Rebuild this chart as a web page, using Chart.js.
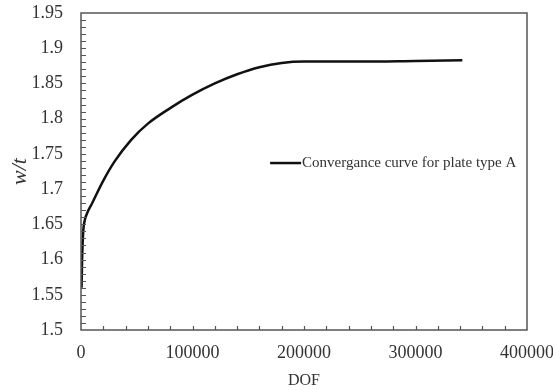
<!DOCTYPE html>
<html>
<head>
<meta charset="utf-8">
<script src="https://cdn.jsdelivr.net/npm/chart.js@4.4.1/dist/chart.umd.min.js"></script>
<style>
  html, body { margin: 0; padding: 0; background: #fff; }
</style>
</head>
<body>
<canvas id="dof-chart" width="553" height="390"></canvas>
<script>
'use strict';

// convergence study: degrees of freedom vs. w/t
var DOF = [500, 1000, 2000, 3000, 5000, 10000, 20000, 30000, 45000, 60000,
  80000, 100000, 120000, 140000, 160000, 180000, 200000, 250000, 300000, 342000];
var WT = [1.56, 1.60, 1.64, 1.653, 1.664, 1.680, 1.712, 1.739, 1.770, 1.793,
  1.815, 1.834, 1.850, 1.863, 1.873, 1.879, 1.881, 1.881, 1.882, 1.883];
var SERIES_LABEL = 'Convergance curve for plate type A';

var X_MIN = 0, X_MAX = 400000, X_STEP = 100000, X_MINOR = 20000;
var Y_MIN = 1.5, Y_MAX = 1.95, Y_STEP = 0.05, Y_MINOR = 0.01;

var SERIF = '"Liberation Serif", "Times New Roman", serif';
var TEXT = '#333';

var PAD = { left: 7, right: 26, top: 13, bottom: 0 };

// keep the plot box fixed: no extra room for overhanging tick labels
function noOverhang(s) {
  s.paddingLeft = 0;
  s.paddingRight = 0;
  s.paddingTop = 0;
  s.paddingBottom = 0;
}

// box frame, inward tick marks and the in-plot legend
var framePlugin = {
  id: 'frame',
  afterDraw: function(chart) {
    var c = chart.ctx, a = chart.chartArea;
    var xs = chart.scales.x, ys = chart.scales.y;
    c.save();
    c.strokeStyle = '#555';
    c.lineWidth = 1.5;
    c.strokeRect(a.left, a.top, a.right - a.left, a.bottom - a.top);

    c.lineWidth = 1.2;
    c.beginPath();
    for (var v = X_MIN + X_MINOR; v < X_MAX; v += X_MINOR) {
      var px = Math.round(xs.getPixelForValue(v)) + 0.5;
      c.moveTo(px, a.bottom);
      c.lineTo(px, a.bottom - 4);
    }
    for (var i = 1; i < Math.round((Y_MAX - Y_MIN) / Y_MINOR); i++) {
      var py = Math.round(ys.getPixelForValue(Y_MIN + i * Y_MINOR)) + 0.5;
      c.moveTo(a.left, py);
      c.lineTo(a.left + 5, py);
    }
    c.stroke();

    // legend
    var lx = a.left + (a.right - a.left) * 0.424;
    var ly = ys.getPixelForValue(1.737);
    c.strokeStyle = '#111';
    c.lineWidth = 2.5;
    c.beginPath();
    c.moveTo(lx, ly);
    c.lineTo(lx + 31, ly);
    c.stroke();
    c.fillStyle = TEXT;
    c.font = '15px ' + SERIF;
    c.textBaseline = 'middle';
    c.fillText(chart.data.datasets[0].label, lx + 32, ly);
    c.restore();
  }
};

var ctx = document.getElementById('dof-chart').getContext('2d');
new Chart(ctx, {
  type: 'line',
  data: {
    datasets: [{
      label: SERIES_LABEL,
      data: DOF.map(function(d, i) { return { x: d, y: WT[i] }; }),
      borderColor: '#111',
      borderWidth: 2.5,
      pointRadius: 0,
      fill: false,
      cubicInterpolationMode: 'monotone'
    }]
  },
  options: {
    responsive: false,
    animation: false,
    layout: { padding: PAD, autoPadding: false },
    plugins: {
      legend: { display: false },
      tooltip: { enabled: false }
    },
    scales: {
      x: {
        type: 'linear',
        min: X_MIN,
        max: X_MAX,
        grid: { display: false, drawTicks: false },
        border: { display: false },
        ticks: {
          stepSize: X_STEP,
          padding: 12,
          color: TEXT,
          font: { family: SERIF, size: 18 },
          maxRotation: 0,
          callback: function(v) { return String(v); }
        },
        title: {
          display: true,
          text: 'DOF',
          color: TEXT,
          padding: 0,
          font: { family: SERIF, size: 16 }
        },
        afterFit: function(s) {
          s.height = 390 - 330 - PAD.bottom;
          noOverhang(s);
        }
      },
      y: {
        min: Y_MIN,
        max: Y_MAX,
        grid: { display: false, drawTicks: false },
        border: { display: false },
        ticks: {
          stepSize: Y_STEP,
          padding: 18,
          color: TEXT,
          font: { family: SERIF, size: 18 },
          callback: function(v) { return String(Number(v.toFixed(2))); }
        },
        title: {
          display: true,
          text: 'w/t',
          color: TEXT,
          padding: 0,
          font: { family: SERIF, size: 22, style: 'italic' }
        },
        afterFit: function(s) {
          s.width = 81 - PAD.left;
          noOverhang(s);
        }
      }
    }
  },
  plugins: [framePlugin]
});
</script>
</body>
</html>
